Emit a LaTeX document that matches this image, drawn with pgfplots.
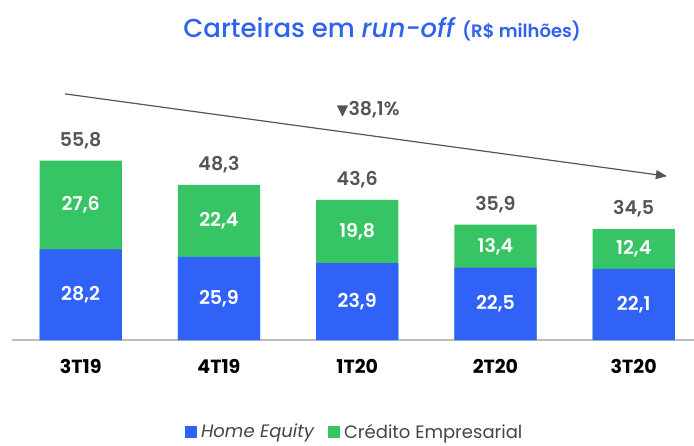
\documentclass[border=0pt]{standalone}
\usepackage{pgfplots}
\pgfplotsset{compat=1.18}
\usepackage{pgfplotstable}
\usepackage{fontspec}
\setmainfont{Poppins}
\newfontfamily\semib{Poppins SemiBold}
\newfontfamily\medf{Poppins Medium}[ItalicFont={Poppins Medium Italic}]
\newfontfamily\dejavu{DejaVu Sans}
\usetikzlibrary{arrows.meta}
\definecolor{heblue}{HTML}{3062F8}
\definecolor{cegreen}{HTML}{36C464}
\definecolor{titleblue}{HTML}{2F62EE}
\definecolor{valgray}{HTML}{555555}
\definecolor{axgray}{HTML}{BDBDBD}

\pgfplotstableread{
x he ce tot
0 28.2 27.6 55.8
1 25.9 22.4 48.3
2 23.9 19.8 43.6
3 22.5 13.4 35.9
4 22.1 12.4 34.5
}\data

\begin{document}
\begin{tikzpicture}[x=1pt,y=1pt]
\useasboundingbox (0,0) rectangle (694,445);
\begin{axis}[
  at={(12pt,105pt)}, anchor=south west,
  scale only axis, width=682pt, height=224.9pt,
  xmin=-0.4967, xmax=4.436, ymin=0, ymax=70,
  clip=false,
  axis y line=none,
  axis x line*=bottom,
  x axis line style={axgray, line width=1.5pt, -},
  xtick=data, xticklabels={3T19,4T19,1T20,2T20,3T20},
  xtick style={draw=none},
  xticklabel style={font=\fontsize{19}{19}\selectfont\bfseries, text=black, yshift=-12pt},
  ybar, bar width=82.3pt,
  legend columns=2,
  reverse legend,
  legend style={draw=none, fill=none, at={(rel axis cs:0.504,-0.408)}, anchor=center,
    font=\fontsize{18}{18}\selectfont, text=valgray!80!black,
    nodes={inner xsep=4pt}},
  legend image code/.code={\fill[#1] (0pt,-6pt) rectangle (12pt,6pt);},
  /pgf/number format/fixed, /pgf/number format/precision=1,
  /pgf/number format/fixed zerofill, /pgf/number format/use comma,
  /pgf/number format/assume math mode=true,
]
\addplot[fill=cegreen, draw=none, bar shift=0pt] table[x=x,y=tot] {\data};
\addlegendentry{Crédito Empresarial}
\addplot[fill=heblue, draw=none, bar shift=0pt] table[x=x,y=he] {\data};
\addlegendentry{\itshape Home Equity\rule{10pt}{0pt}}
% labels
\pgfplotsset{lbl/.style={draw=none, fill=none, bar shift=0pt, forget plot,
  nodes near coords, point meta=explicit,
  nodes near coords align={center},
  every node near coord/.append style={font=\fontsize{19}{19}\semib, text=white}}}
\addplot[lbl] table[x=x, y expr=\thisrow{he}/2, meta=he] {\data};
\addplot[lbl] table[x=x, y expr=\thisrow{he}+\thisrow{ce}/2, meta=ce] {\data};
\addplot[lbl, every node near coord/.append style={text=valgray, yshift=20pt}]
  table[x=x, y=tot, meta=tot] {\data};
\draw[valgray, line width=1.2pt, -{Triangle[length=11pt,width=9pt]}] (axis cs:-0.112,76.6) -- (axis cs:4.24,51.0);
\node[text=valgray, font=\fontsize{19}{19}\semib] at (axis cs:2.08,71.7) {{\dejavu\fontsize{15}{15}\selectfont ▼}38,1\%};
\end{axis}
\node[text=titleblue, font=\fontsize{26}{26}\medf, anchor=base] at (382,407) {Carteiras em \textit{run-off} {\semib\fontsize{18}{18}\selectfont (R\$ milhões)}};
\end{tikzpicture}
\end{document}
